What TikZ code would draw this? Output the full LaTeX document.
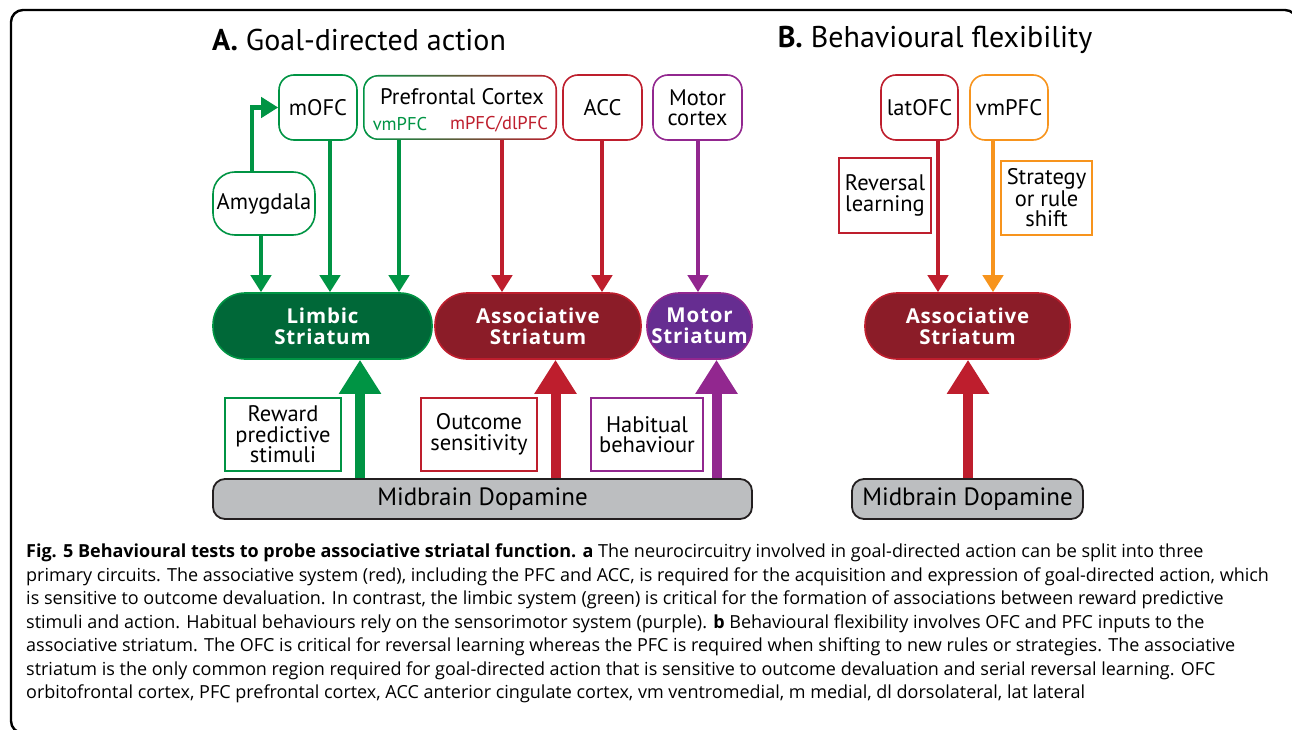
\documentclass[tikz,border=0pt]{standalone}
\usepackage{fontspec}
\usetikzlibrary{arrows.meta}
\newfontfamily\labfont{PT Sans}
\newfontfamily\capfont{Open Sans}
\newfontfamily\stfont[LetterSpace=4]{Open Sans}
\definecolor{lgreen}{HTML}{009444}
\definecolor{dgreen}{HTML}{006838}
\definecolor{lred}{HTML}{BE1E2D}
\definecolor{dred}{HTML}{8B1C28}
\definecolor{lpurple}{HTML}{92278F}
\definecolor{dpurple}{HTML}{662D91}
\definecolor{orng}{HTML}{F7941D}
\definecolor{dopgrey}{HTML}{BCBEC0}
\definecolor{edge}{HTML}{231F20}

\begin{document}
\begin{tikzpicture}[x=1pt,y=1pt,yscale=-1,
  region/.style={draw,fill=white,line width=1.6pt,rounded corners=15pt,inner sep=0pt,align=center,
    minimum height=65pt,font=\labfont\fontsize{22.5}{20}\selectfont},
  note/.style={draw,fill=white,line width=1.6pt,inner sep=0pt,align=center,
    font=\labfont\fontsize{22.5}{20.5}\selectfont},
  striatum/.style={draw,line width=1.6pt,rounded corners=32pt,inner sep=0pt,align=center,text=white,
    minimum height=66pt,font=\stfont\bfseries\fontsize{20.5}{21}\selectfont},
  dopa/.style={draw=edge,fill=dopgrey,line width=1.8pt,rounded corners=12pt,inner sep=0pt,
    minimum height=40pt,font=\labfont\fontsize{25}{25}\selectfont},
  title/.style={inner sep=0pt,font=\labfont\fontsize{30}{30}\selectfont},
  feed/.style={line width=4.5pt,-{Triangle[width=20pt,length=17pt]}},
  drive/.style={line width=10pt,-{Triangle[width=40pt,length=34pt]}},
]
\useasboundingbox (0,0) rectangle (1292,730);
\draw[line width=2.4pt,rounded corners=12pt] (1297,60) |- (11,10) |- (60,733);

\node[title] (ttlA) at (359,40) {\textbf{A.} Goal-directed action};
\node[title] (ttlB) at (935,40) {\textbf{B.} Behavioural flexibility};

\node[region,draw=lgreen,minimum width=78pt] (mofc) at (318,107.5) {mOFC};
\node[inner sep=0pt,rounded corners=15pt,left color=lgreen,right color=lred,minimum width=194pt,minimum height=65pt] (pfc) at (460,107.5) {};
\node[inner sep=0pt,fill=white,rounded corners=13.5pt,minimum width=190.8pt,minimum height=61.8pt] at (pfc.center) {};
\node[inner sep=0pt,font=\labfont\fontsize{22.5}{20}\selectfont] (pfcname) at (462,97) {Prefrontal Cortex};
\node[inner sep=0pt,text=lgreen,font=\labfont\fontsize{18.5}{18}\selectfont] (vmpfc) at (400,124) {vmPFC};
\node[inner sep=0pt,text=lred,font=\labfont\fontsize{18.5}{18}\selectfont] (dlpfc) at (499,124) {mPFC/dlPFC};
\node[region,draw=lred,minimum width=79pt] (acc) at (602.5,107.5) {ACC};
\node[region,draw=lpurple,minimum width=89pt] (motcx) at (697.5,107.5) {Motor\\cortex};
\node[region,draw=lgreen,rounded corners=22pt,minimum width=102pt,minimum height=63pt] (amyg) at (264,203.5) {Amygdala};

\node[striatum,draw=lgreen,fill=dgreen,minimum width=219pt] (limbic) at (322.5,326) {Limbic\\Striatum};
\node[striatum,draw=lred,fill=dred,minimum width=206pt] (assoc) at (538,326) {Associative\\Striatum};
\node[striatum,draw=lpurple,fill=dpurple,minimum width=105pt] (motstr) at (699.5,326) {Motor\\Striatum};

\node[note,draw=lgreen,minimum width=116pt,minimum height=73pt] (reward) at (283,434.5) {Reward\\predictive\\stimuli};
\node[note,draw=lred,minimum width=116pt,minimum height=73pt] (outcome) at (479,434.5) {Outcome\\sensitivity};
\node[note,draw=lpurple,minimum width=112pt,minimum height=73pt] (habit) at (647,434.5) {Habitual\\behaviour};

\node[dopa,minimum width=539pt] (dopaA) at (482.5,499) {Midbrain Dopamine};

\node[region,draw=lred,minimum width=77pt] (latofc) at (919.5,107.5) {latOFC};
\node[region,draw=orng,minimum width=78pt] (vmpfcB) at (1009,107.5) {vmPFC};
\node[note,draw=lred,minimum width=92pt,minimum height=75pt] (reversal) at (885,195.5) {Reversal\\learning};
\node[note,draw=orng,minimum width=91pt,minimum height=74pt] (shift) at (1046.5,198) {Strategy\\or rule\\shift};
\node[striatum,draw=lred,fill=dred,minimum width=205pt] (assocB) at (967.5,326) {Associative\\Striatum};
\node[dopa,minimum width=231pt] (dopaB) at (967.5,499) {Midbrain Dopamine};

\coordinate (xa) at (252,0);
\coordinate (xb) at (261,0);
\coordinate (xm) at (330,0);
\coordinate (xv) at (399,0);
\coordinate (xd) at (502,0);
\coordinate (xc) at (602,0);
\coordinate (xo) at (698,0);
\coordinate (xl) at (938,0);
\coordinate (xs) at (993,0);
\coordinate (ug) at (360,0);
\coordinate (ur) at (555.5,0);
\coordinate (up) at (716.5,0);
\coordinate (ub) at (968,0);

\draw[feed,lgreen] (amyg.north -| xa) |- (mofc.west);
\draw[feed,lgreen] (amyg.south -| xb) -- (limbic.north -| xb);
\draw[feed,lgreen] (mofc.south -| xm) -- (limbic.north -| xm);
\draw[feed,lgreen] (pfc.south -| xv) -- (limbic.north -| xv);
\draw[feed,lred] (pfc.south -| xd) -- (assoc.north -| xd);
\draw[feed,lred] (acc.south -| xc) -- (assoc.north -| xc);
\draw[feed,lpurple] (motcx.south -| xo) -- (motstr.north -| xo);
\draw[feed,lred] (latofc.south -| xl) -- (assocB.north -| xl);
\draw[feed,orng] (vmpfcB.south -| xs) -- (assocB.north -| xs);

\draw[drive,lgreen] (dopaA.north -| ug) -- (limbic.south -| ug);
\draw[drive,lred] (dopaA.north -| ur) -- (assoc.south -| ur);
\draw[drive,lpurple] (dopaA.north -| up) -- (motstr.south -| up);
\draw[drive,lred] (dopaB.north -| ub) -- (assocB.south -| ub);

\node[anchor=north west,inner sep=0pt,align=left,font=\capfont\fontsize{18}{23.5}\selectfont] (caption) at (26,544) {%
\textbf{Fig. 5 Behavioural tests to probe associative striatal function. a} The neurocircuitry involved in goal-directed action can be split into three\\
primary circuits. The associative system (red), including the PFC and ACC, is required for the acquisition and expression of goal-directed action, which\\
is sensitive to outcome devaluation. In contrast, the limbic system (green) is critical for the formation of associations between reward predictive\\
stimuli and action. Habitual behaviours rely on the sensorimotor system (purple). \textbf{b} Behavioural flexibility involves OFC and PFC inputs to the\\
associative striatum. The OFC is critical for reversal learning whereas the PFC is required when shifting to new rules or strategies. The associative\\
striatum is the only common region required for goal-directed action that is sensitive to outcome devaluation and serial reversal learning. OFC\\
orbitofrontal cortex, PFC prefrontal cortex, ACC anterior cingulate cortex, vm ventromedial, m medial, dl dorsolateral, lat lateral};
\end{tikzpicture}
\end{document}
